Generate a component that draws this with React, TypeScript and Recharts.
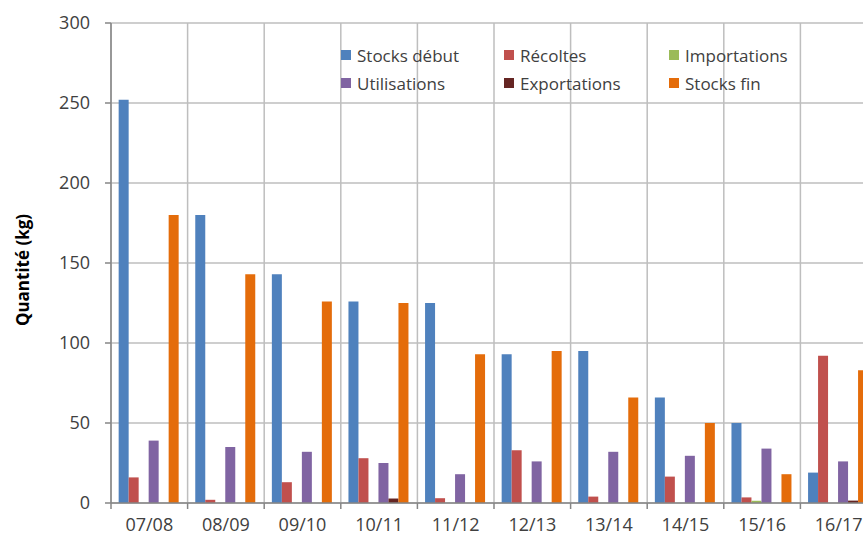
import { BarChart, Bar, XAxis, YAxis, CartesianGrid, Legend, Label } from 'recharts';

const seasons = ['07/08', '08/09', '09/10', '10/11', '11/12', '12/13', '13/14', '14/15', '15/16', '16/17'];
const stocksDebut = [252, 180, 143, 126, 125, 93, 95, 66, 50, 19];
const recoltes = [16, 2, 13, 28, 3, 33, 4, 16.5, 3.5, 92];
const importations = [0, 0, 0, 0, 0, 0, 0, 0, 1.4, 0];
const utilisations = [39, 35, 32, 25, 18, 26, 32, 29.5, 34, 26];
const exportations = [0, 0, 0, 2.8, 0, 0, 0, 0, 0, 1.5];
const stocksFin = [180, 143, 126, 125, 93, 95, 66, 50, 18, 83];
const yTicks = [0, 50, 100, 150, 200, 250, 300];

const series = [
  { key: 'stocksDebut', name: 'Stocks début', color: '#4F81BD' },
  { key: 'recoltes', name: 'Récoltes', color: '#C0504D' },
  { key: 'importations', name: 'Importations', color: '#9BBB59' },
  { key: 'utilisations', name: 'Utilisations', color: '#8064A2' },
  { key: 'exportations', name: 'Exportations', color: '#652523' },
  { key: 'stocksFin', name: 'Stocks fin', color: '#E46C0A' },
];

const data = seasons.map((season, i) => ({
  season,
  stocksDebut: stocksDebut[i],
  recoltes: recoltes[i],
  importations: importations[i],
  utilisations: utilisations[i],
  exportations: exportations[i],
  stocksFin: stocksFin[i],
}));

const axisColor = '#868686';
const textColor = '#404040';
const TICK_LEN = 6;
const TICK_MARGIN = 9;

// legend drawn in series order, 3 columns x 2 rows
function LegendBox() {
  const widths = [163, 165, 170];
  return (
    <div style={{ display: 'grid', gridTemplateColumns: widths.map((w) => `${w}px`).join(' ') }}>
      {series.map((s) => (
        <div key={s.key} style={{ display: 'flex', alignItems: 'center', height: 28 }}>
          <span style={{ width: 10, height: 10, background: s.color, marginRight: 6, flexShrink: 0 }} />
          <span style={{ fontSize: 17, color: textColor, whiteSpace: 'nowrap' }}>{s.name}</span>
        </div>
      ))}
    </div>
  );
}

// category label plus tick marks on the category boundaries
function SeasonTick({ x, y, payload, index, visibleTicksCount }: any) {
  const half = payload?.offset ?? 0;
  const axisY = y - TICK_LEN - TICK_MARGIN;
  const marks = [x - half];
  if (index === visibleTicksCount - 1) marks.push(x + half);
  return (
    <g>
      {half > 0 &&
        marks.map((mx) => (
          <line key={mx} x1={mx} x2={mx} y1={axisY} y2={axisY + TICK_LEN} stroke={axisColor} strokeWidth={1.5} />
        ))}
      <text x={x} y={y} dy="0.71em" textAnchor="middle" fontSize={18} fill={textColor}>
        {payload.value}
      </text>
    </g>
  );
}

export default function App() {
  return (
    <div
      style={{
        position: 'absolute',
        left: 0,
        top: 0,
        width: 863,
        height: 535,
        overflow: 'hidden',
        background: '#fff',
        fontFamily: '"Open Sans", sans-serif',
      }}
    >
      <BarChart
        width={900}
        height={535}
        data={data}
        margin={{ top: 23, right: 23, bottom: 0, left: 0 }}
        barCategoryGap="10%"
        barGap={0}
      >
        <CartesianGrid
          stroke="#BEBEBE"
          strokeWidth={1.5}
          verticalCoordinatesGenerator={({ offset }: any) =>
            seasons.map((_, i) => offset.left + (i * offset.width) / seasons.length).concat(offset.left + offset.width)
          }
        />
        <XAxis
          dataKey="season"
          interval={0}
          tickLine={false}
          tickSize={TICK_LEN}
          tickMargin={TICK_MARGIN}
          height={32}
          axisLine={{ stroke: axisColor, strokeWidth: 1.5 }}
          tick={<SeasonTick />}
        />
        <YAxis
          domain={[0, 300]}
          ticks={yTicks}
          width={111}
          tickSize={6}
          tickMargin={15}
          axisLine={{ stroke: axisColor, strokeWidth: 1.5 }}
          tickLine={{ stroke: axisColor, strokeWidth: 1.5 }}
          tick={{ fontSize: 18, fill: textColor }}
        >
          <Label
            content={({ viewBox }: any) => {
              const cx = viewBox.x + 22;
              const cy = viewBox.y + viewBox.height / 2 + 7;
              return (
                <text
                  x={cx}
                  y={cy}
                  transform={`rotate(-90, ${cx}, ${cy})`}
                  textAnchor="middle"
                  dominantBaseline="central"
                  fontSize={17}
                  fontWeight="bold"
                  fill="#000"
                >
                  Quantité (kg)
                </text>
              );
            }}
          />
        </YAxis>
        <Legend
          layout="horizontal"
          verticalAlign="middle"
          align="center"
          wrapperStyle={{ top: 41, left: 341, width: 510 }}
          content={<LegendBox />}
        />
        {series.map((s) => (
          <Bar key={s.key} dataKey={s.key} name={s.name} fill={s.color} isAnimationActive={false} />
        ))}
      </BarChart>
    </div>
  );
}
